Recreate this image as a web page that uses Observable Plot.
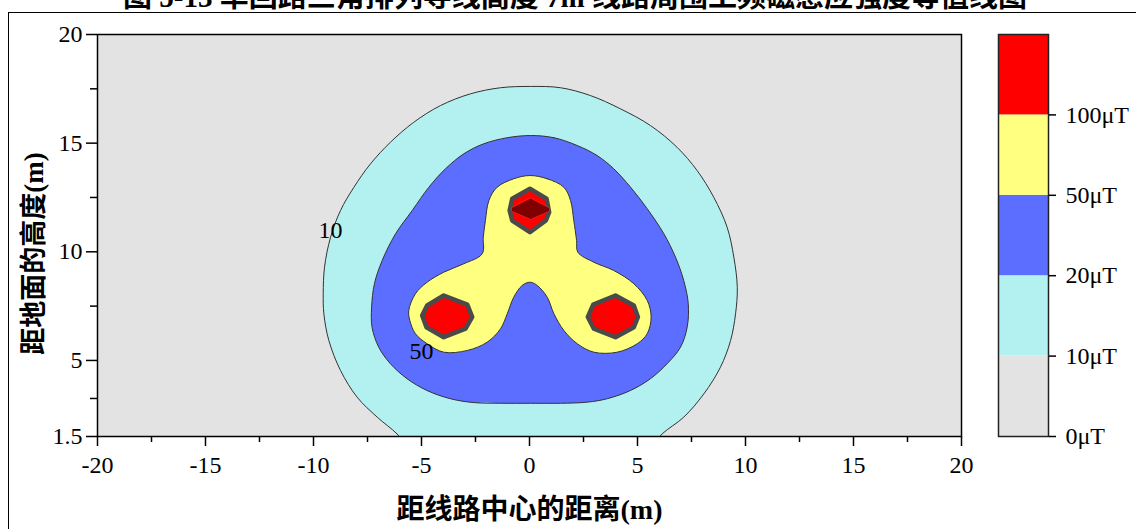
<!DOCTYPE html>
<html>
<head>
<meta charset="utf-8">
<script src="https://cdn.jsdelivr.net/npm/d3@7"></script>
<script src="https://cdn.jsdelivr.net/npm/@observablehq/plot@0.6"></script>
<style>
  body { margin: 0; background: #fff; }
  #page { position: relative; width: 1136px; height: 529px; overflow: hidden; }
  #border { position: absolute; left: 8px; top: 12px; width: 1300px; height: 700px;
            border-left: 1.5px solid #000; border-top: 1.5px solid #000; }
  #title { position: absolute; left: 0; top: 0; }
  #main { position: absolute; left: 0; top: 0; }
  #legend { position: absolute; left: 980px; top: 0; }
</style>
</head>
<body>
<div id="page">
  <div id="border"></div>
  <svg id="title" width="1136" height="12">
    <text x="575" y="7" text-anchor="middle"
          style="font: bold 29px 'Liberation Serif','Noto Sans CJK SC';">图 5-13 单回路三角排列导线高度 7m 线路周围工频磁感应强度等值线图</text>
  </svg>
  <div id="main"></div>
  <div id="legend"></div>
</div>
<script>
// Axis ticks
const xMajor = [-20, -15, -10, -5, 0, 5, 10, 15, 20];
const xMinor = [-17.5, -12.5, -7.5, -2.5, 2.5, 7.5, 12.5, 17.5];
const yMajor = [1.5, 5, 10, 15, 20];
const yMinor = [3.25, 7.5, 12.5, 17.5];
const xTitle = "距线路中心的距离(m)";
const yTitle = "距地面的高度(m)";

// Iso-lines of the power-frequency magnetic field, [distance (m), height (m)]
const contour10 = [
  [-5.4, 0.8], [-6.13, 1.62], [-7.05, 2.39], [-7.98, 3.31], [-8.75, 4.54], [-9.29, 5.92],
  [-9.52, 7.15], [-9.55, 8.07], [-9.49, 9.29], [-9.21, 10.67], [-8.75, 11.9], [-8.13, 12.97],
  [-7.36, 14.05], [-6.44, 15.04], [-5.36, 15.96], [-4.12, 16.73], [-2.73, 17.27], [-1.34, 17.55],
  [0.05, 17.61], [1.44, 17.55], [2.82, 17.19], [4.21, 16.58], [5.6, 15.81], [6.83, 14.81],
  [7.76, 13.74], [8.53, 12.51], [9.15, 11.13], [9.46, 9.75], [9.62, 8.37], [9.54, 7.15],
  [9.31, 5.92], [8.84, 4.69], [8.07, 3.46], [7.14, 2.39], [6.14, 1.62], [5.4, 0.8]
];
const contour20 = [
  [0.05, 15.35], [1.13, 15.25], [2.21, 14.89], [3.13, 14.43], [3.9, 13.82], [4.68, 12.97],
  [5.45, 11.98], [6.22, 10.83], [6.76, 9.75], [7.14, 8.68], [7.35, 7.61], [7.3, 6.53],
  [6.99, 5.61], [6.37, 4.85], [5.6, 4.16], [4.68, 3.62], [3.6, 3.24], [2.67, 3.08],
  [1.44, 3.03], [0.05, 3.03], [-1.34, 3.03], [-2.57, 3.06], [-3.67, 3.24], [-4.75, 3.62],
  [-5.67, 4.16], [-6.44, 4.85], [-6.98, 5.61], [-7.29, 6.53], [-7.31, 7.45], [-7.18, 8.53],
  [-6.82, 9.6], [-6.2, 10.83], [-5.43, 11.9], [-4.66, 12.97], [-3.89, 13.82], [-3.04, 14.51],
  [-2.12, 14.97], [-1.03, 15.25]
];
const contour50 = [
  [0.02, 13.51], [0.82, 13.36], [1.59, 12.97], [1.9, 12.36], [2.05, 11.44], [2.18, 10.52],
  [2.24, 9.98], [2.98, 9.52], [3.9, 9.14], [4.83, 8.53], [5.45, 7.76], [5.63, 6.99],
  [5.45, 6.23], [4.99, 5.77], [4.06, 5.38], [2.98, 5.38], [2.21, 5.77], [1.59, 6.38],
  [1.13, 7.15], [0.82, 7.91], [0.36, 8.45], [0.02, 8.6], [-0.34, 8.45], [-0.73, 7.91],
  [-1.03, 7.15], [-1.34, 6.46], [-1.96, 5.84], [-2.88, 5.46], [-3.97, 5.38], [-4.74, 5.77],
  [-5.28, 6.23], [-5.54, 6.84], [-5.59, 7.3], [-5.28, 8.07], [-4.74, 8.6], [-3.97, 9.06],
  [-3.04, 9.45], [-2.19, 9.91], [-2.14, 10.67], [-2.04, 11.44], [-1.88, 12.36], [-1.5, 12.97],
  [-0.73, 13.36]
];
const contour100Top = [
  [0.02, 12.9], [0.79, 12.44], [0.91, 11.82], [0.76, 11.44], [0.02, 10.9], [-0.8, 11.44],
  [-0.92, 11.9], [-0.8, 12.44]
];
const contour100Left = [
  [-3.97, 7.99], [-2.88, 7.57], [-2.65, 7.0], [-2.96, 6.46], [-3.97, 6.07], [-4.77, 6.53],
  [-4.97, 7.07], [-4.74, 7.53]
];
const contour100Right = [
  [3.98, 7.99], [4.83, 7.53], [5.02, 7.0], [4.83, 6.53], [3.98, 6.07], [2.98, 6.46],
  [2.7, 7.0], [2.95, 7.57]
];
const contour200Top = [
  [0.05, 12.47], [0.93, 12.02], [0.93, 11.87], [0.05, 11.49], [-0.83, 11.87], [-0.83, 12.02]
];

// Inline contour labels
const labelText = ["10", "50"];
const labelX = [-9.21, -5.0];
const labelY = [10.98, 5.41];

// Colour bands of the legend
const legendLabels = ["0μT", "10μT", "20μT", "50μT", "100μT"];
const legendColors = ["#e3e3e3", "#b3f0f0", "#5b6eff", "#ffff80", "#ff0000"];
const deepRed = "#7f0000";

const pts = (arr) => arr.map(([x, y]) => ({x, y}));
const smooth = {x: "x", y: "y", curve: "catmull-rom-closed", clip: true};
const poly = {x: "x", y: "y", curve: "linear-closed", clip: true};
const blank = () => "";

const main = Plot.plot({
  width: 1000,
  height: 529,
  marginLeft: 97,
  marginRight: 39,
  marginTop: 34,
  marginBottom: 93,
  style: {fontFamily: "'Liberation Serif', 'Noto Sans CJK SC', serif", fontSize: "24px", color: "#000", background: "transparent"},
  x: {domain: [-20, 20], axis: null},
  y: {domain: [1.5, 20], axis: null},
  marks: [
    Plot.frame({fill: legendColors[0]}),
    Plot.line(pts(contour10), {...smooth, fill: legendColors[1], stroke: "#333", strokeWidth: 1}),
    Plot.line(pts(contour20), {...smooth, fill: legendColors[2], stroke: "#333", strokeWidth: 1}),
    Plot.line(pts(contour50), {...smooth, fill: legendColors[3], stroke: "#333", strokeWidth: 1}),
    Plot.line(pts(contour100Top), {...poly, fill: legendColors[4], stroke: "#4a4a4a", strokeWidth: 4.5, strokeLinejoin: "round"}),
    Plot.line(pts(contour100Left), {...poly, fill: legendColors[4], stroke: "#4a4a4a", strokeWidth: 4.5, strokeLinejoin: "round"}),
    Plot.line(pts(contour100Right), {...poly, fill: legendColors[4], stroke: "#4a4a4a", strokeWidth: 4.5, strokeLinejoin: "round"}),
    Plot.line(pts(contour200Top), {...poly, fill: deepRed, stroke: "#ff3030", strokeWidth: 0.6}),
    Plot.text(labelText, {x: (d, i) => labelX[i], y: (d, i) => labelY[i], text: d => d, fontSize: 24}),
    Plot.frame({stroke: "#000", strokeWidth: 1.5}),
    Plot.axisX(xMinor, {anchor: "bottom", tickSize: 6, strokeWidth: 1.5, tickFormat: blank, label: null}),
    Plot.axisX(xMajor, {anchor: "bottom", tickSize: 10, strokeWidth: 1.5, tickPadding: 9, fontSize: 24, tickFormat: d => String(d), label: null}),
    Plot.axisY(yMinor, {anchor: "left", tickSize: 7, strokeWidth: 1.5, tickFormat: blank, label: null}),
    Plot.axisY(yMajor, {anchor: "left", tickSize: 11, strokeWidth: 1.5, tickPadding: 4, fontSize: 24, tickFormat: d => String(d), label: null}),
    Plot.text([xTitle], {frameAnchor: "bottom", text: d => d, dy: 82, fontSize: 28, fontWeight: "bold"}),
    Plot.text([yTitle], {frameAnchor: "left", text: d => d, textAnchor: "middle", rotate: -90, dx: -63, dy: 18, fontSize: 27, fontWeight: "bold"})
  ]
});
document.getElementById("main").appendChild(main);

const bands = legendColors.map((c, i) => ({lo: i, hi: i + 1, c}));
const legend = Plot.plot({
  width: 156,
  height: 529,
  marginLeft: 18,
  marginRight: 88,
  marginTop: 34,
  marginBottom: 93,
  style: {fontFamily: "'Liberation Serif', serif", fontSize: "24px", color: "#000", background: "transparent"},
  x: {domain: [0, 1], axis: null},
  y: {domain: [0, 5], axis: null},
  marks: [
    Plot.rect(bands, {x1: d => 0, x2: d => 1, y1: "lo", y2: "hi", fill: "c"}),
    Plot.frame({stroke: "#222", strokeWidth: 1.5}),
    Plot.axisY([0, 1, 2, 3, 4], {anchor: "right", tickSize: 7, strokeWidth: 1.5, tickPadding: 10, fontSize: 24, tickFormat: i => legendLabels[i], label: null})
  ]
});
document.getElementById("legend").appendChild(legend);
</script>
</body>
</html>
